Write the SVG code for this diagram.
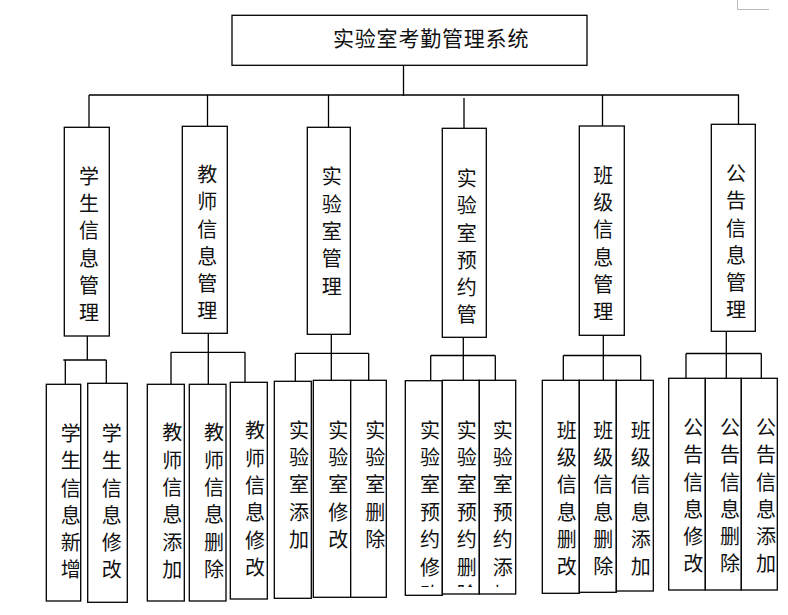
<svg xmlns="http://www.w3.org/2000/svg" width="788" height="615" viewBox="0 0 788 615">
<style>
.box{fill:#fff;stroke:#000;stroke-width:1.3}
.ln{fill:none;stroke:#000;stroke-width:1.3}
.t{font-family:"Noto Sans CJK SC","Liberation Sans",sans-serif;fill:#111}
.v{font-family:"Noto Sans CJK SC","Liberation Sans",sans-serif;font-size:20px;fill:#111;text-anchor:middle}
</style>
<defs>
<clipPath id="c4a"><rect x="405" y="380" width="38" height="207"/></clipPath>
<clipPath id="c4b"><rect x="442" y="380" width="38" height="207"/></clipPath>
<clipPath id="c4c"><rect x="479" y="380" width="37" height="207"/></clipPath>
</defs>
<rect width="788" height="615" fill="#fff"/>
<path d="M737.5 0V9.5H769" fill="none" stroke="#bbb" stroke-width="1"/>
<g id="connectors">
<path class="ln" d="M403.5 65V96M89 95H739M89 95V127M207.5 95V126M328.5 95V127M464 98V128M602.5 95V126M738.5 95V124"/>
<path class="ln" d="M87.3 336V360M63.3 360H106.3M65.3 360V384M106.3 360V383"/>
<path class="ln" d="M208.3 333V384M171 352.3H245M171 352.3V384M245 352.3V382"/>
<path class="ln" d="M331.3 334V380M295.3 353.3H368.7M295.3 353.3V381M368.7 353.3V380"/>
<path class="ln" d="M463.3 337V380M430.7 355.5H495.3M430.7 355.5V380M495.3 355.5V380"/>
<path class="ln" d="M603.3 335V380M563.3 355.5H640.7M563.3 355.5V380M640.7 355.5V380"/>
<path class="ln" d="M726.3 331V378M686 353.5H761.3M686 353.5V378M761.3 353.5V378"/>
</g>
<g id="root">
<rect class="box" x="232" y="15.3" width="355" height="50"/>
<text class="t" x="333" y="46" font-size="21" letter-spacing="0.8">实验室考勤管理系统</text>
</g>
<g id="n1">
<rect class="box" x="64.3" y="127.3" width="45" height="208.7"/>
<text class="v" x="89" y="183.6"><tspan x="89">学</tspan><tspan x="89" dy="27.3">生</tspan><tspan x="89" dy="27.3">信</tspan><tspan x="89" dy="27.3">息</tspan><tspan x="89" dy="27.3">管</tspan><tspan x="89" dy="27.3">理</tspan></text>
</g>
<g id="n2">
<rect class="box" x="182.3" y="126.3" width="45" height="207"/>
<text class="v" x="207.3" y="181.9"><tspan x="207.3">教</tspan><tspan x="207.3" dy="27.3">师</tspan><tspan x="207.3" dy="27.3">信</tspan><tspan x="207.3" dy="27.3">息</tspan><tspan x="207.3" dy="27.3">管</tspan><tspan x="207.3" dy="27.3">理</tspan></text>
</g>
<g id="n3">
<rect class="box" x="307.3" y="127.3" width="43" height="207"/>
<text class="v" x="331.7" y="184.3"><tspan x="331.7">实</tspan><tspan x="331.7" dy="27.3">验</tspan><tspan x="331.7" dy="27.3">室</tspan><tspan x="331.7" dy="27.3">管</tspan><tspan x="331.7" dy="27.3">理</tspan></text>
</g>
<g id="n4">
<rect class="box" x="442.3" y="128.3" width="44" height="209"/>
<text class="v" x="466.7" y="185.9"><tspan x="466.7">实</tspan><tspan x="466.7" dy="27.3">验</tspan><tspan x="466.7" dy="27.3">室</tspan><tspan x="466.7" dy="27.3">预</tspan><tspan x="466.7" dy="27.3">约</tspan><tspan x="466.7" dy="27.3">管</tspan></text>
</g>
<g id="n5">
<rect class="box" x="579.3" y="126" width="45" height="209.3"/>
<text class="v" x="603.3" y="182.6"><tspan x="603.3">班</tspan><tspan x="603.3" dy="27.3">级</tspan><tspan x="603.3" dy="27.3">信</tspan><tspan x="603.3" dy="27.3">息</tspan><tspan x="603.3" dy="27.3">管</tspan><tspan x="603.3" dy="27.3">理</tspan></text>
</g>
<g id="n6">
<rect class="box" x="711.3" y="124.3" width="44" height="207"/>
<text class="v" x="736" y="180.9"><tspan x="736">公</tspan><tspan x="736" dy="27.3">告</tspan><tspan x="736" dy="27.3">信</tspan><tspan x="736" dy="27.3">息</tspan><tspan x="736" dy="27.3">管</tspan><tspan x="736" dy="27.3">理</tspan></text>
</g>
<g id="n1a">
<rect class="box" x="46.3" y="384.3" width="34.4" height="216.7"/>
<text class="v" x="70.7" y="440.9"><tspan x="70.7">学</tspan><tspan x="70.7" dy="27.3">生</tspan><tspan x="70.7" dy="27.3">信</tspan><tspan x="70.7" dy="27.3">息</tspan><tspan x="70.7" dy="27.3">新</tspan><tspan x="70.7" dy="27.3">增</tspan></text>
</g>
<g id="n1b">
<rect class="box" x="87.7" y="383.3" width="39.6" height="219"/>
<text class="v" x="111.7" y="440.9"><tspan x="111.7">学</tspan><tspan x="111.7" dy="27.3">生</tspan><tspan x="111.7" dy="27.3">信</tspan><tspan x="111.7" dy="27.3">息</tspan><tspan x="111.7" dy="27.3">修</tspan><tspan x="111.7" dy="27.3">改</tspan></text>
</g>
<g id="n2a">
<rect class="box" x="147.3" y="384.3" width="37" height="216.7"/>
<text class="v" x="172.3" y="440.3"><tspan x="172.3">教</tspan><tspan x="172.3" dy="27.3">师</tspan><tspan x="172.3" dy="27.3">信</tspan><tspan x="172.3" dy="27.3">息</tspan><tspan x="172.3" dy="27.3">添</tspan><tspan x="172.3" dy="27.3">加</tspan></text>
</g>
<g id="n2b">
<rect class="box" x="189.3" y="384.3" width="36.7" height="216.7"/>
<text class="v" x="214" y="440.3"><tspan x="214">教</tspan><tspan x="214" dy="27.3">师</tspan><tspan x="214" dy="27.3">信</tspan><tspan x="214" dy="27.3">息</tspan><tspan x="214" dy="27.3">删</tspan><tspan x="214" dy="27.3">除</tspan></text>
</g>
<g id="n2c">
<rect class="box" x="230.3" y="382.3" width="37" height="216.7"/>
<text class="v" x="255" y="438.3"><tspan x="255">教</tspan><tspan x="255" dy="27.3">师</tspan><tspan x="255" dy="27.3">信</tspan><tspan x="255" dy="27.3">息</tspan><tspan x="255" dy="27.3">修</tspan><tspan x="255" dy="27.3">改</tspan></text>
</g>
<g id="n3a">
<rect class="box" x="274.3" y="381.3" width="37" height="217"/>
<text class="v" x="299" y="437.6"><tspan x="299">实</tspan><tspan x="299" dy="27.4">验</tspan><tspan x="299" dy="27.4">室</tspan><tspan x="299" dy="27.4">添</tspan><tspan x="299" dy="27.4">加</tspan></text>
</g>
<g id="n3b">
<rect class="box" x="313.3" y="380.3" width="37.4" height="217"/>
<text class="v" x="338.3" y="437.6"><tspan x="338.3">实</tspan><tspan x="338.3" dy="27.4">验</tspan><tspan x="338.3" dy="27.4">室</tspan><tspan x="338.3" dy="27.4">修</tspan><tspan x="338.3" dy="27.4">改</tspan></text>
</g>
<g id="n3c">
<rect class="box" x="350.7" y="380.3" width="35.6" height="217"/>
<text class="v" x="375.3" y="437.6"><tspan x="375.3">实</tspan><tspan x="375.3" dy="27.4">验</tspan><tspan x="375.3" dy="27.4">室</tspan><tspan x="375.3" dy="27.4">删</tspan><tspan x="375.3" dy="27.4">除</tspan></text>
</g>
<g id="n4a">
<rect class="box" x="405.3" y="380.7" width="37" height="214.6"/>
<text class="v" x="430" y="437.6" clip-path="url(#c4a)"><tspan x="430">实</tspan><tspan x="430" dy="27.4">验</tspan><tspan x="430" dy="27.4">室</tspan><tspan x="430" dy="27.4">预</tspan><tspan x="430" dy="27.4">约</tspan><tspan x="430" dy="27.4">修</tspan><tspan x="430" dy="27.4">改</tspan></text>
</g>
<g id="n4b">
<rect class="box" x="442.3" y="380.3" width="37" height="213.7"/>
<text class="v" x="466.7" y="437.6" clip-path="url(#c4b)"><tspan x="466.7">实</tspan><tspan x="466.7" dy="27.4">验</tspan><tspan x="466.7" dy="27.4">室</tspan><tspan x="466.7" dy="27.4">预</tspan><tspan x="466.7" dy="27.4">约</tspan><tspan x="466.7" dy="27.4">删</tspan><tspan x="466.7" dy="27.4">除</tspan></text>
</g>
<g id="n4c">
<rect class="box" x="479.3" y="380.3" width="36.4" height="213.7"/>
<text class="v" x="502.7" y="437.6" clip-path="url(#c4c)"><tspan x="502.7">实</tspan><tspan x="502.7" dy="27.4">验</tspan><tspan x="502.7" dy="27.4">室</tspan><tspan x="502.7" dy="27.4">预</tspan><tspan x="502.7" dy="27.4">约</tspan><tspan x="502.7" dy="27.4">添</tspan><tspan x="502.7" dy="27.4">加</tspan></text>
</g>
<g id="n5a">
<rect class="box" x="542.3" y="380.3" width="37" height="213"/>
<text class="v" x="566.7" y="437.6"><tspan x="566.7">班</tspan><tspan x="566.7" dy="27.3">级</tspan><tspan x="566.7" dy="27.3">信</tspan><tspan x="566.7" dy="27.3">息</tspan><tspan x="566.7" dy="27.3">删</tspan><tspan x="566.7" dy="27.3">改</tspan></text>
</g>
<g id="n5b">
<rect class="box" x="579.3" y="380.3" width="37" height="212"/>
<text class="v" x="603.3" y="437.6"><tspan x="603.3">班</tspan><tspan x="603.3" dy="27.3">级</tspan><tspan x="603.3" dy="27.3">信</tspan><tspan x="603.3" dy="27.3">息</tspan><tspan x="603.3" dy="27.3">删</tspan><tspan x="603.3" dy="27.3">除</tspan></text>
</g>
<g id="n5c">
<rect class="box" x="616.3" y="380.3" width="37" height="210.7"/>
<text class="v" x="640.7" y="437.6"><tspan x="640.7">班</tspan><tspan x="640.7" dy="27.3">级</tspan><tspan x="640.7" dy="27.3">信</tspan><tspan x="640.7" dy="27.3">息</tspan><tspan x="640.7" dy="27.3">添</tspan><tspan x="640.7" dy="27.3">加</tspan></text>
</g>
<g id="n6a">
<rect class="box" x="668.7" y="378.3" width="36.6" height="211.7"/>
<text class="v" x="693.3" y="434.9"><tspan x="693.3">公</tspan><tspan x="693.3" dy="27.3">告</tspan><tspan x="693.3" dy="27.3">信</tspan><tspan x="693.3" dy="27.3">息</tspan><tspan x="693.3" dy="27.3">修</tspan><tspan x="693.3" dy="27.3">改</tspan></text>
</g>
<g id="n6b">
<rect class="box" x="705.3" y="378.3" width="36" height="211.7"/>
<text class="v" x="730" y="434.9"><tspan x="730">公</tspan><tspan x="730" dy="27.3">告</tspan><tspan x="730" dy="27.3">信</tspan><tspan x="730" dy="27.3">息</tspan><tspan x="730" dy="27.3">删</tspan><tspan x="730" dy="27.3">除</tspan></text>
</g>
<g id="n6c">
<rect class="box" x="741.3" y="378.3" width="36" height="211.7"/>
<text class="v" x="766" y="434.9"><tspan x="766">公</tspan><tspan x="766" dy="27.3">告</tspan><tspan x="766" dy="27.3">信</tspan><tspan x="766" dy="27.3">息</tspan><tspan x="766" dy="27.3">添</tspan><tspan x="766" dy="27.3">加</tspan></text>
</g>
</svg>
